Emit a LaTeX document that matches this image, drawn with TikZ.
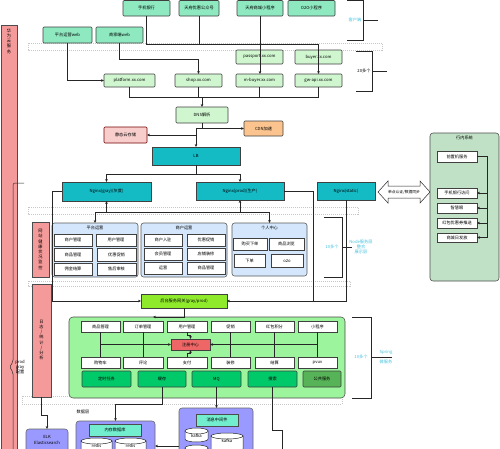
\documentclass[tikz,border=0pt]{standalone}
\usepackage{fontspec}
\setmainfont{Noto Sans CJK SC}
\usetikzlibrary{arrows.meta}
\definecolor{mint}{HTML}{8EE8C0}
\definecolor{lgreen}{HTML}{CFF6CF}
\definecolor{cdnc}{HTML}{FBC48E}
\definecolor{pinkst}{HTML}{F8CECC}
\definecolor{tealc}{HTML}{14BAC4}
\definecolor{pinkbar}{HTML}{F59A9A}
\definecolor{grpblue}{HTML}{D4E6FB}
\definecolor{lime}{HTML}{8FEA2C}
\definecolor{svcg}{HTML}{9CF59C}
\definecolor{dkgreen}{HTML}{00C969}
\definecolor{pubg}{HTML}{57B357}
\definecolor{regred}{HTML}{EE6666}
\definecolor{purp}{HTML}{9999FF}
\definecolor{bankg}{HTML}{C1E1C6}
\definecolor{cyantx}{HTML}{44C2E0}
\newcommand{\fs}{\fontsize{4.2}{5.2}\selectfont}
\newcommand{\bx}[7]{\node[#1,anchor=north west,minimum width={(#5-#3)*1pt},minimum height={(#6-#4)*1pt}] (#2) at (#3,#4) {#7};}
\newcommand{\cyl}[6]{%
  \draw[ln,fill=white] (#2,{#3+3}) -- (#2,{#5-3}) arc[start angle=180,end angle=0,x radius={(#4-#2)/2},y radius=3] -- (#4,{#3+3}) -- cycle;
  \draw[ln,fill=white] ({(#2+#4)/2},{#3+3}) ellipse [x radius={(#4-#2)/2},y radius=3];
  \node (#1) at ({(#2+#4)/2},{#3+8}) {#6};}
\tikzset{
  every node/.style={font=\fs,inner sep=0pt,outer sep=0pt},
  bxs/.style={draw=black!75,line width=0.55pt,align=center},
  client/.style={bxs,fill=mint,rounded corners=1pt},
  dom/.style={bxs,fill=lgreen,rounded corners=1pt},
  cdnbox/.style={bxs,fill=cdnc,rounded corners=1pt},
  ossbox/.style={bxs,fill=pinkst,draw=red!45!black,rounded corners=1pt},
  teal/.style={bxs,fill=tealc},
  pinkb/.style={bxs,fill=pinkbar,draw=black!70},
  grp/.style={bxs,fill=grpblue,draw=black!65,rounded corners=2.5pt},
  wb/.style={bxs,fill=white,draw=black!75},
  gwbox/.style={bxs,fill=lime,draw=black!75},
  svc/.style={bxs,fill=svcg,draw=black!70,rounded corners=4pt},
  dk/.style={bxs,fill=dkgreen,draw=black!75,rounded corners=1pt},
  pub/.style={bxs,fill=pubg,draw=black!75,rounded corners=1pt},
  reg/.style={bxs,fill=regred,draw=black!75},
  purpbox/.style={bxs,fill=purp,draw=black!60,rounded corners=3pt},
  mintin/.style={bxs,fill=mint!80!cyan,draw=black!70},
  bank/.style={bxs,fill=bankg,draw=black!70,rounded corners=3pt},
  band/.style={draw=black!22,line width=0.35pt,dash pattern=on 1pt off 1pt},
  ln/.style={draw=black!85,line width=0.5pt},
  arr/.style={ln,-{Stealth[length=3pt,width=2.6pt]}},
  cy/.style={text=cyantx,align=center},
}
\begin{document}
\begin{tikzpicture}[x=1pt,y=-1pt]
\clip (0,0) rectangle (500,448);
\fill[white] (0,0) rectangle (500,448);
% dashed bands
\draw[band] (28,43) rectangle (382,50);
\draw[band] (28,207) rectangle (358,214);
\draw[band] (28,281) rectangle (350,286);
\draw[band] (22,396) rectangle (342,404);
% left bar and brace
\bx{pinkb}{cloud}{1}{25}{17}{452}{}
\node[align=center] (cloudt) at (9,41) {华\\为\\云\\服\\务};
\draw[ln,rounded corners=2pt] (24,183) -- (13,183) -- (13,362) -- (9.5,367) -- (13,372) -- (13,452);
\node[align=center] (prodgray) at (20,367) {prod\\gray\\配置};
% clients
\bx{client}{c1}{123}{0.5}{170}{16}{手机银行}
\bx{client}{c2}{179}{0.5}{219}{16}{天府优惠公众号}
\bx{client}{c3}{237}{0.5}{283}{16}{天府商城小程序}
\bx{client}{c4}{288}{0.5}{335}{16}{O2O小程序}
\bx{client}{w1}{43}{27}{92}{43}{平台运营web}
\bx{client}{w2}{96}{27}{143}{43}{商家端web}
% domains
\bx{dom}{passport}{236}{50}{283}{64}{passport.xx.com}
\bx{dom}{buyer}{295}{50}{342}{64}{buyer.xx.com}
\bx{dom}{platform}{104}{74}{155}{87}{platform.xx.com}
\bx{dom}{shop}{175}{74}{222}{87}{shop.xx.com}
\bx{dom}{mbuyer}{236}{74}{283}{87}{m-buyer.xx.com}
\bx{dom}{gwapi}{295}{74}{342}{87}{gw-api.xx.com}
\bx{dom}{dns}{176}{107}{228}{123}{DNS解析}
\bx{cdnbox}{cdn}{244}{121}{283}{136}{CDN加速}
\bx{ossbox}{oss}{104}{127}{147}{143}{静态云存储}
\bx{teal}{lb}{152}{147}{240}{165}{LB}
\bx{teal}{ngg}{62}{182}{151}{201}{Nginx(gray)(灰度)}
\bx{teal}{ngp}{196}{182}{284}{200}{Nginx(prod)(生产)}
\bx{teal}{ngs}{317}{182}{375}{200}{Nginx(static)}
% brackets top
\draw[ln] (347,0.5) -- (363,0.5) -- (363,40) -- (347,40);
\draw[ln] (363,20) -- (378,20);
\node[cy] (khd) at (355,20) {客户端};
\draw[ln] (356,51) -- (372,51) -- (372,91) -- (356,91);
\draw[ln] (372,71) -- (387,71);
\node (n20) at (364,71) {20多个};
% top connectors
\coordinate (b1) at (318.5,44);
\draw[arr] (c1.south) |- (b1) -- (gwapi.north);
\draw[ln] (c2.south) -- (c2.south |- b1);
\draw[arr] (c3.south) -- (c3.south |- mbuyer.north);
\draw[arr] (w2.south) -- ++(0,16) -| (shop.north);
\draw[arr] (w1.south) |- (platform.west);
\coordinate (b2) at (318.5,97);
\draw[ln] (platform.south) |- (b2) -- (gwapi.south);
\draw[ln] (shop.south) -- (shop.south |- b2);
\draw[ln] (mbuyer.south) -- (mbuyer.south |- b2);
\draw[arr] (dns.north |- b2) -- (dns.north);
\draw[arr] (dns.south) |- (cdn.west);
\draw[arr] (dns.south) -- ++(0,5) -| (lb.north);
\draw[arr] (lb.north |- oss.east) -- (oss.east);
\draw[ln] (lb.south) -- ++(0,9) coordinate (j3);
\draw[arr] (j3) -| (ngg.north);
\draw[arr] (j3) -| (ngp.north);
% groups
\bx{grp}{g1}{52}{223}{138}{277}{}
\node (g1t) at (95,228) {平台运营};
\bx{wb}{g1a}{54}{234}{92}{246}{商户管理}
\bx{wb}{g1b}{96}{234}{136}{246}{用户管理}
\bx{wb}{g1c}{54}{248}{92}{261}{商品管理}
\bx{wb}{g1d}{97}{248}{136}{261}{优惠促销}
\bx{wb}{g1e}{54}{263}{92}{275}{佣金结算}
\bx{wb}{g1f}{97}{263}{136}{275}{售后审核}
\bx{grp}{g2}{141}{223}{227}{277}{}
\node (g2t) at (184,228) {商户运营};
\bx{wb}{g2a}{144}{234}{182}{246}{商户入驻}
\bx{wb}{g2b}{187}{234}{225}{246}{优惠促销}
\bx{wb}{g2c}{144}{248}{182}{260}{会员管理}
\bx{wb}{g2d}{187}{248}{225}{260}{店铺装修}
\bx{wb}{g2e}{144}{262}{182}{274}{运营}
\bx{wb}{g2f}{187}{262}{225}{274}{商品管理}
\bx{grp}{g3}{232}{223}{307}{276}{}
\node (g3t) at (269.5,228) {个人中心};
\bx{wb}{g3a}{233}{238}{267}{250}{购买下单}
\bx{wb}{g3b}{269}{238}{304}{250}{商品浏览}
\bx{wb}{g3c}{234}{254}{265}{267}{下单}
\bx{wb}{g3d}{271}{254}{303}{267}{o2o}
\coordinate (b3l) at (95,212);
\coordinate (b3r) at (269.5,212);
\draw[ln] (b3l) -- (b3r);
\draw[arr] (ngg.south |- b3l) -- (ngg.south);
\draw[arr] (ngp.south |- b3l) -- (ngp.south);
\draw[arr] (b3l) -- (g1.north);
\draw[arr] (b3r) -- (g3.north);
% middle bracket
\draw[ln] (324,217) -- (342,217) -- (342,277) -- (324,277);
\draw[ln,line width=0.9pt] (342,247) -- (352,247);
\node[cy] (n10a) at (332,247) {10多个};
\node[cy] (nodel) at (361,247) {Node服务层\\整合\\展示层};
% pink side boxes
\bx{pinkb}{mon}{32}{222}{49}{277}{}
\node[align=center] (mont) at (40.5,249.5) {网\\站\\健\\康\\状\\况\\监\\控};
\bx{pinkb}{log}{32}{284}{51}{397}{}
\node[align=center] (logt) at (41.5,340) {日\\志\\/\\统\\计\\/\\分\\析};
% gateway
\bx{gwbox}{gw}{141}{294}{227}{308}{后台服务网关(gray/prod)}
\coordinate (j4) at (313,301);
\draw[arr] (ngg.west) -- ++(-10,0) |- (gw.west);
\draw[arr] (ngp.east) -| (j4) -- (gw.east);
\draw[ln] (ngs.south) |- (j4);
% SSO double arrow and bank system
\draw[ln,fill=white] (378,192) -- (388,181) -- (388,186) -- (420,186) -- (420,181) -- (430,192) -- (420,203) -- (420,198) -- (388,198) -- (388,203) -- cycle;
\node (sso) at (404,192) {\fontsize{3.8}{4.5}\selectfont 单点认证/数据同步};
\bx{bank}{bank}{430}{133}{499}{281}{}
\node (bankt) at (464.5,138) {行内系统};
\bx{wb}{bk1}{437}{151}{477}{162}{前置机服务}
\bx{wb}{bk2}{437}{188}{477}{198}{手机银行访问}
\bx{wb}{bk3}{437}{203}{477}{213}{智慧眼}
\bx{wb}{bk4}{437}{218}{477}{228}{红包优惠券推送}
\bx{wb}{bk5}{437}{233}{477}{242}{商城日发放}
\draw[ln] (bk1.east) -- ++(10,0) coordinate (bj) -- (bj |- bk5.east);
\draw[arr] (bj |- bk2.east) -- (bk2.east);
\draw[arr] (bj |- bk3.east) -- (bk3.east);
\draw[arr] (bj |- bk4.east) -- (bk4.east);
\draw[arr] (bj |- bk5.east) -- (bk5.east);
% services container
\bx{svc}{sv}{69}{317}{345}{398}{}
\draw[arr] (gw.south) -- ++(0,9) -- (153,317);
\bx{wb}{sa1}{81}{321}{120}{332}{商品管理}
\bx{wb}{sa2}{123}{321}{163}{332}{订单管理}
\bx{wb}{sa3}{167}{321}{207}{332}{用户管理}
\bx{wb}{sa4}{211}{321}{250}{332}{促销}
\bx{wb}{sa5}{255}{321}{294}{332}{红包积分}
\bx{wb}{sa6}{298}{321}{337}{332}{小程序}
\bx{reg}{regc}{171}{339}{210}{350}{注册中心}
\bx{wb}{sc1}{81}{357}{120}{368}{购物车}
\bx{wb}{sc2}{123}{357}{163}{368}{评论}
\bx{wb}{sc3}{167}{357}{207}{368}{支付}
\bx{wb}{sc4}{211}{357}{250}{368}{装修}
\bx{wb}{sc5}{255}{357}{294}{368}{结算}
\bx{wb}{sc6}{298}{357}{337}{368}{pvuv}
\bx{dk}{sd1}{82}{371}{131}{387}{定时任务}
\bx{dk}{sd2}{138}{371}{186}{387}{缓存}
\bx{dk}{sd3}{192}{371}{241}{387}{MQ}
\bx{dk}{sd4}{248}{371}{297}{387}{搜索}
\bx{pub}{sd5}{303}{371}{341}{387}{公共服务}
\draw[ln] (sa1.south) -- (sc1.north);
\draw[ln] (sa2.south) -- (sc2.north);
\draw[ln] (sa4.south) -- (sc4.north);
\draw[ln] (sa5.south) -- (sc5.north);
\draw[ln] (sa6.south) -- (sc6.north);
\draw[arr] (sa1.south |- regc.west) -- (regc.west);
\draw[arr] (sa6.south |- regc.east) -- (regc.east);
\draw[arr] (sa3.south) -- ++(0,3.5) -| (regc.north);
\draw[arr] (sc3.north) -- ++(0,-3.5) -| (regc.south);
% right bracket
\draw[ln] (352,317) -- (371,317) -- (371,398) -- (352,398);
\draw[ln,line width=0.9pt] (371,357) -- (392,357);
\node[cy] (n10b) at (361,357) {10多个};
\node[cy] (spr1) at (386,352.5) {Spring};
\node[cy] (spr2) at (386,362) {微服务};
% data layer
\node (dlayer) at (83,412) {数据层};
\bx{purpbox}{logbx}{26}{429}{68}{455}{}
\node[align=center] (elk) at (47,440) {ELK\\Elasticsearch};
\draw[arr] (log.south) -- ++(0,18) -| (logbx.north);
\bx{purpbox}{memc}{76}{421}{155}{455}{}
\bx{mintin}{memt}{89}{424}{141}{436}{内存数据库}
\cyl{r1}{81}{438}{112}{458}{redis}
\cyl{r2}{115}{438}{146}{458}{redis}
\draw[arr] (sd2.south) -- ++(0,17) -| (memc.north);
\bx{purpbox}{mqc}{179}{408}{253}{455}{}
\bx{mintin}{mqt}{196}{414}{238}{426}{消息中间件}
\cyl{k1}{185}{428}{208}{442}{kafka}
\cyl{k2}{211}{433}{243}{452}{kafka}
\cyl{k3}{185}{445}{208}{460}{}
\draw[arr] (sd3.south) -- (sd3.south |- mqc.north);
\draw[ln] (sd4.south) -- ++(0,43) -- ++(10,0) -- ++(0,20);
\draw[arr] (mqc.west |- 0,446) -- (memc.east |- 0,446);
\end{tikzpicture}
\end{document}
